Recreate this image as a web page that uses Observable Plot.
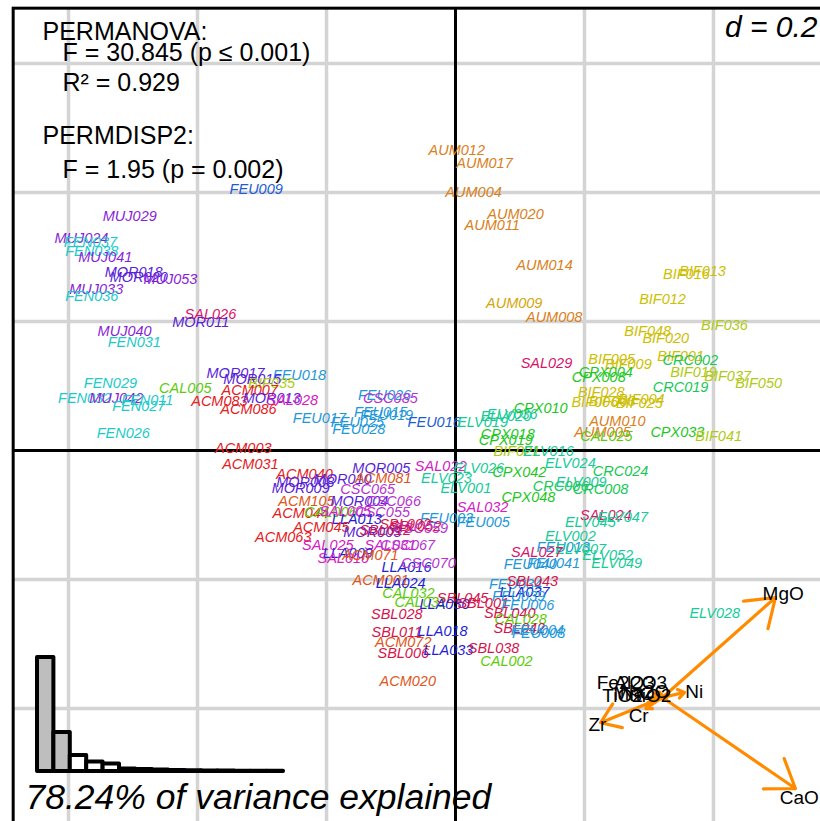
<!DOCTYPE html>
<html><head><meta charset="utf-8">
<script src="https://cdn.jsdelivr.net/npm/d3@7"></script>
<script src="https://cdn.jsdelivr.net/npm/@observablehq/plot@0.6"></script>
<style>
body{margin:0;background:#fff}
#wrap{position:relative;width:820px;height:821px;overflow:hidden}
#wrap svg{position:absolute;left:0;top:0}
</style>
</head><body><div id="wrap"></div>
<script>
// ---- sample scores (axis 1, axis 2) ----
const sampleNames = ["AUM012","AUM017","AUM004","AUM020","AUM011","AUM014","AUM009","AUM008","FEU009","MUJ029","MUJ024","FEN037","FEN038","MUJ041","MOR018","MOR020","MUJ053","MUJ033","FEN036","SAL026","MOR011","MUJ040","FEN031","FEN029","CAL005","FEN032","MUJ042","FEN011","FEN027","FEN026","MOR017","FEU018","MOR015","BIF035","ACM007","ACM083","MOR013","SAL028","ACM086","FEU017","ACM003","FEU026","CSC085","FEU015","FEU019","FEU025","FEU028","FEU016","ELV019","ELV036","ELV020","CPX010","CPX018","CPX019","BIF021","ELV016","SAL022","ELV026","ELV023","ELV001","CPX042","ELV024","CRC024","CRC006","ELV009","CRC008","CPX048","SAL032","FEU005","FEU003","SAL024","ELV047","ELV045","ELV002","FEU013","ELV007","SAL027","ELV052","FEU040","FEU041","ELV049","LLA016","CSC070","ACM001","LLA024","CAL032","CAL031","SBL045","LLA030","SBL001","FEU034","SBL043","LLA037","FEU039","FEU006","SBL040","CAL028","SBL042","FEU004","FEU008","SBL028","SBL011","LLA018","ACM072","SBL006","LLA033","SBL038","CAL002","ACM020","ACM031","ACM040","MOR005","MOR010","ACM081","MOR008","MOR009","CSC065","ACM105","MOR004","CSC066","ACM044","CAL006","SAL005","CSC055","LLA013","SBL002","SBL052","CSC059","ACM045","MOR003","SBL012","ACM063","SAL025","SAL031","CSC067","LLA009","SAL010","ACM071","BIF013","BIF016","BIF012","BIF048","BIF020","BIF036","BIF005","BIF009","BIF001","CRC002","SAL029","CPX004","CPX008","BIF019","BIF037","BIF050","CRC019","BIF028","BIF006","BIF004","BIF025","BIF003","AUM010","AUM005","CAL025","CPX033","BIF041","ELV028"];
const axis1 = [0.002,0.045,0.028,0.093,0.057,0.138,0.091,0.153,-0.309,-0.505,-0.580,-0.566,-0.564,-0.543,-0.499,-0.491,-0.442,-0.557,-0.564,-0.380,-0.395,-0.513,-0.498,-0.535,-0.419,-0.575,-0.526,-0.478,-0.491,-0.515,-0.341,-0.242,-0.315,-0.285,-0.319,-0.366,-0.285,-0.253,-0.321,-0.211,-0.329,-0.110,-0.101,-0.116,-0.107,-0.152,-0.150,-0.033,0.042,0.088,0.078,0.132,0.081,0.078,0.095,0.144,-0.023,0.036,-0.014,0.016,0.099,0.178,0.256,0.163,0.195,0.225,0.113,0.042,0.043,-0.014,0.233,0.259,0.209,0.178,0.167,0.194,0.126,0.236,0.116,0.152,0.250,-0.076,-0.042,-0.116,-0.085,-0.073,-0.054,0.011,-0.017,0.043,0.093,0.119,0.107,0.098,0.112,0.084,0.101,0.099,0.127,0.129,-0.091,-0.091,-0.020,-0.081,-0.081,-0.011,0.059,0.079,-0.074,-0.318,-0.234,-0.115,-0.175,-0.112,-0.233,-0.240,-0.136,-0.231,-0.149,-0.096,-0.240,-0.194,-0.171,-0.113,-0.153,-0.078,-0.062,-0.054,-0.208,-0.129,-0.109,-0.267,-0.198,-0.101,-0.074,-0.167,-0.174,-0.132,0.383,0.358,0.321,0.298,0.326,0.417,0.242,0.268,0.349,0.364,0.141,0.233,0.222,0.369,0.422,0.470,0.349,0.226,0.216,0.288,0.285,0.243,0.251,0.228,0.234,0.344,0.408,0.402];
const axis2 = [0.465,0.445,0.400,0.366,0.349,0.287,0.228,0.206,0.405,0.363,0.329,0.322,0.309,0.299,0.276,0.268,0.265,0.250,0.239,0.211,0.198,0.184,0.167,0.104,0.096,0.081,0.081,0.078,0.068,0.026,0.119,0.116,0.110,0.104,0.093,0.076,0.081,0.078,0.064,0.050,0.003,0.085,0.081,0.059,0.054,0.043,0.033,0.043,0.043,0.056,0.053,0.065,0.025,0.016,-0.002,-0.002,-0.025,-0.028,-0.043,-0.059,-0.034,-0.020,-0.033,-0.056,-0.050,-0.060,-0.073,-0.088,-0.112,-0.105,-0.101,-0.104,-0.112,-0.133,-0.150,-0.153,-0.158,-0.163,-0.177,-0.175,-0.175,-0.181,-0.175,-0.202,-0.206,-0.222,-0.236,-0.229,-0.239,-0.237,-0.208,-0.203,-0.220,-0.226,-0.240,-0.253,-0.262,-0.276,-0.279,-0.284,-0.254,-0.282,-0.281,-0.298,-0.315,-0.310,-0.307,-0.327,-0.358,-0.022,-0.037,-0.028,-0.045,-0.043,-0.050,-0.059,-0.060,-0.079,-0.079,-0.079,-0.098,-0.096,-0.095,-0.096,-0.107,-0.115,-0.118,-0.121,-0.119,-0.127,-0.124,-0.135,-0.147,-0.147,-0.147,-0.160,-0.167,-0.163,0.278,0.273,0.234,0.184,0.174,0.194,0.141,0.133,0.146,0.140,0.135,0.121,0.113,0.121,0.115,0.104,0.098,0.090,0.074,0.079,0.073,0.076,0.045,0.028,0.022,0.028,0.022,-0.253];
// samples drawn in the second shade of their group colour
const shadeB = ["AUM009","FEU009","FEU016","SAL026","SAL024","SAL027","SAL029","ACM001","ACM072","ACM020","ACM081","ACM105","ACM071","BIF035","BIF021","BIF036","BIF019","BIF037","BIF050","BIF041"];

// ---- group colours ----
const groupKeys   = ["ACM","ACMb","AUM","AUMb","BIF","BIFb","CAL","CPX","CRC","ELV","FEN","FEU","FEUb","LLA","MOR","MUJ","CSC","SAL","SALb","SBL"];
const groupColors = ["#E3201E","#E0561A","#D9801A","#D4A50A","#CDBE00","#B0CA12","#5CCB0A","#22C71E","#17C858","#16CB98","#1CCACA","#1E98D8","#1E5CD5","#1F1FD4","#5A1FD8","#8A1FD8","#B535D2","#D420C4","#D8146A","#D4144C"];

// ---- variables (arrows) ----
const varNames = ["MgO","CaO","Ni","Zr","Cr","Fe2O3","Al2O3","TiO2","SiO2","MnO","Na2O"];
const varDx = [0.175,0.206,0.034,-0.096,-0.026,-0.012,-0.008,-0.017,0.008,-0.011,-0.002];
const varDy = [0.155,-0.141,0.008,-0.039,-0.017,0.008,0.009,-0.003,0.002,-0.002,0.005];
const varLabelX = [0.508,0.533,0.370,0.220,0.284,0.264,0.287,0.259,0.302,0.277,0.293];
const varLabelY = [-0.222,-0.538,-0.374,-0.426,-0.411,-0.361,-0.361,-0.380,-0.380,-0.378,-0.374];
const arrowOrigin = [0.321, -0.383];

// ---- eigenvalues ----
const eigenvalues = [114,39,16,9.5,7.5,2.5,2,1.5,1,0.8,0.6,0.4,0.3,0.2,0.25];
const keptAxes = 2;

// ---- frame / grid ----
const frameLimits = [-0.685, 0.685];
const gridBreaks = [-0.6,-0.4,-0.2,0.2,0.4,0.6];

const samples = sampleNames.map((n,i)=>({name:n, x:axis1[i], y:axis2[i], group: n.slice(0,3) + (shadeB.includes(n) ? "b" : "")}));
const vars = varNames.map((n,i)=>({name:n, dx:varDx[i], dy:varDy[i], lx:varLabelX[i], ly:varLabelY[i]}));

const font = "Liberation Sans, Arial, Helvetica, sans-serif";
const ann = (s, dx, dy, size, opts={}) => Plot.text([s], {text: d=>d, frameAnchor:"top-left", dx, dy, textAnchor:"start", lineAnchor:"middle", fontSize:size, fill:"black", ...opts});

const main = Plot.plot({
  width: 820, height: 821, margin: 0,
  x: {domain: [-0.7, 0.6], range: [3.5, 842], axis: null},
  y: {domain: [-0.6, 0.7], range: [837, -1.5], axis: null},
  color: {type: "categorical", domain: groupKeys, range: groupColors},
  style: {fontFamily: font, background: "white"},
  marks: [
    Plot.ruleX(gridBreaks, {x: d=>d, y1: ()=>frameLimits[0], y2: ()=>frameLimits[1], stroke: "#D4D4D4", strokeWidth: 3.5}),
    Plot.ruleY(gridBreaks, {y: d=>d, x1: ()=>frameLimits[0], x2: ()=>frameLimits[1], stroke: "#D4D4D4", strokeWidth: 3.5}),
    Plot.ruleX([0], {x: d=>d, y1: ()=>frameLimits[0], y2: ()=>frameLimits[1], stroke: "black", strokeWidth: 3}),
    Plot.ruleY([0], {y: d=>d, x1: ()=>frameLimits[0], x2: ()=>frameLimits[1], stroke: "black", strokeWidth: 3}),
    Plot.rect([frameLimits], {x1: d=>d[0], x2: d=>d[1], y1: d=>d[0], y2: d=>d[1], fill: "none", stroke: "black", strokeWidth: 3}),
    Plot.text(samples, {x: "x", y: "y", text: "name", fill: "group", fontSize: 14.5, fontStyle: "italic"}),
    Plot.arrow(vars, {x1: ()=>arrowOrigin[0], y1: ()=>arrowOrigin[1], x2: d=>arrowOrigin[0]+d.dx, y2: d=>arrowOrigin[1]+d.dy, stroke: "#FF8C00", strokeWidth: 3.2, headLength: 15, headAngle: 70}),
    Plot.text(vars, {x: "lx", y: "ly", text: "name", fontSize: 19, fill: "black"}),
    ann("PERMANOVA:", 42, 31, 25),
    ann("F = 30.845 (p \u2264 0.001)", 62, 52, 25),
    ann("R\u00B2 = 0.929", 62, 82, 25),
    ann("PERMDISP2:", 42, 135, 25),
    ann("F = 1.95 (p = 0.002)", 62, 169, 25),
    Plot.text(["d = 0.2"], {text: d=>d, frameAnchor: "top-right", dx: -3, dy: 27, textAnchor: "end", lineAnchor: "middle", fontSize: 30, fontStyle: "italic", fill: "black"}),
    Plot.text([`${(100*d3.sum(eigenvalues.slice(0,keptAxes))/d3.sum(eigenvalues)).toFixed(2)}% of variance explained`], {text: d=>d, frameAnchor: "bottom-left", dx: 25, dy: -24, textAnchor: "start", lineAnchor: "middle", fontSize: 35.5, fontStyle: "italic", fill: "black"})
  ]
});

const eigIndex = eigenvalues.map((_,i)=>i);
const hist = Plot.plot({
  width: 820, height: 821, margin: 0,
  x: {domain: [0, eigenvalues.length], range: [37, 283], axis: null},
  y: {domain: [0, d3.max(eigenvalues)], range: [771, 657], axis: null},
  style: {background: "transparent"},
  marks: [
    Plot.rect(eigIndex, {x1: i=>i, x2: i=>i+1, y1: ()=>0, y2: i=>eigenvalues[i], fill: i=> i<keptAxes ? "#BEBEBE" : "white", stroke: "black", strokeWidth: 4, strokeLinejoin: "round"})
  ]
});

const wrap = document.getElementById("wrap");
wrap.appendChild(main);
wrap.appendChild(hist);
</script>
</body></html>
